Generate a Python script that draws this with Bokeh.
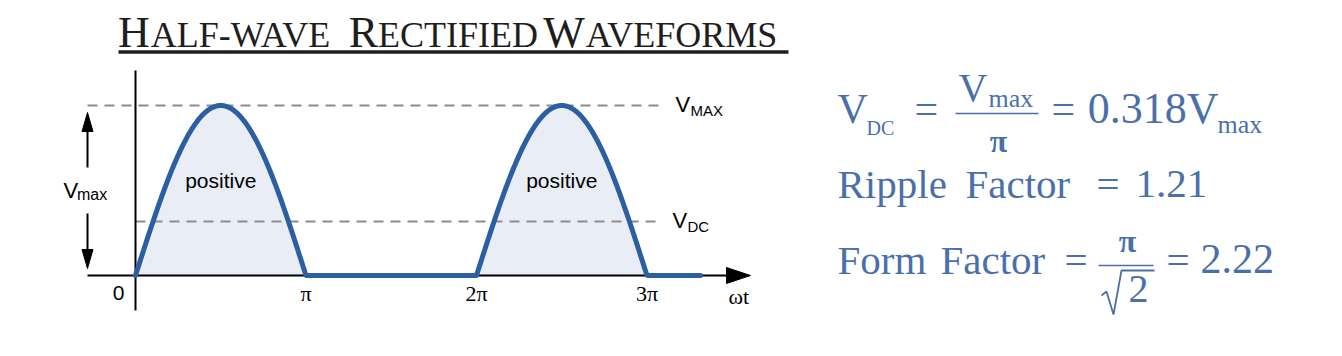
import numpy as np
from bokeh.plotting import figure
from bokeh.models import Range1d
from bokeh.core.properties import value
from bokeh.embed import file_html
from bokeh.resources import INLINE

# ---------------- data ----------------
tick_pos = [0.0, np.pi, 2 * np.pi, 3 * np.pi]
tick_labels = ["0", "π", "2π", "3π"]
V_MAX = 1.0
V_DC = 0.318
wave_end = 3.314 * np.pi          # where the drawn trace stops
positive_centres = [0.5 * np.pi, 2.5 * np.pi]
title_parts = ["H", "ALF-WAVE", "R", "ECTIFIED", "W", "AVEFORMS"]
vdc_value = "0.318"
ripple_value = "1.21"
form_value = "2.22"

# half-wave rectified sine
wx = np.linspace(0, wave_end, 800)
wy = np.clip(np.sin(wx), 0, None) * V_MAX

# ---------------- layout helpers (window pixels -> data) ----------------
W, H = 1326, 340
OFF = 0                         # canvas offset inside the window
X0PX, Y0PX = 135.0, 275.0      # window px of origin
SX = 170.5 / np.pi              # px per radian
SY = 170.0                      # px per volt unit


def X(px):
    return (px - X0PX) / SX


def Y(py):
    return (Y0PX - py) / SY


p = figure(width=W, height=H, output_backend="svg", toolbar_location=None,
           x_range=Range1d(X(OFF), X(OFF + W)), y_range=Range1d(Y(OFF + H), Y(OFF)),
           x_axis_type=None, y_axis_type=None, min_border=0)
p.grid.visible = False
p.outline_line_color = None
p.background_fill_color = "white"
p.border_fill_color = "white"

BLUE = "#2c5ea2"
FILL = "#e9eef6"
GREY = "#8c8c8c"
FORM = "#4a70aa"
SERIF = "Liberation Serif"
SANS = "Liberation Sans"
MID = {SERIF: 0.3375, SANS: 0.3465}   # baseline -> middle of em box


def txt(xs, base_px, texts, size, font, color="black", align="left", style="normal"):
    yy = Y(base_px - MID[font] * size)
    p.text(x=xs, y=[yy] * len(xs), text=texts, text_font=value(font),
           text_font_size=value(f"{size}px"), text_color=color,
           text_align=align, text_baseline="middle", text_font_style=style)


# fill under positive half-cycles
p.varea(x=wx, y1=np.zeros_like(wx), y2=wy, fill_color=FILL)

# dashed reference lines
p.line([X(87), X(662)], [V_MAX, V_MAX], line_color=GREY, line_width=2, line_dash="10 7")
p.line([0, X(662)], [V_DC, V_DC], line_color=GREY, line_width=2, line_dash="10 7")

# axes
p.line([X(87), X(735)], [0, 0], line_color="black", line_width=2)
p.line([0, 0], [Y(310), Y(70)], line_color="black", line_width=2)
p.patch([X(750), X(726), X(726)], [0, Y(267), Y(283)], color="black")

# Vmax arrows
p.line([X(87), X(87)], [Y(128), Y(167)], line_color="black", line_width=2)
p.patch([X(87), X(81.5), X(92.5)], [Y(112), Y(131), Y(131)], color="black")
p.line([X(87), X(87)], [Y(213), Y(252)], line_color="black", line_width=2)
p.patch([X(87), X(81.5), X(92.5)], [Y(268), Y(249), Y(249)], color="black")

# waveform
p.line(wx, wy, line_color=BLUE, line_width=5, line_cap="round", line_join="round")

# labels on the diagram
txt(positive_centres, 187, ["positive"] * 2, 21, SANS, align="center")
txt([X(675)], 112, ["V"], 22, SANS)
txt([X(690)], 115, ["MAX"], 15, SANS)
txt([X(672)], 228, ["V"], 22, SANS)
txt([X(687)], 231.5, ["DC"], 15, SANS)
txt([X(63)], 198, ["V"], 22, SANS)
txt([X(76.5)], 200, ["max"], 16, SANS)

# tick labels
txt([X(118)], 300, [tick_labels[0]], 21, SANS, align="center")
txt(tick_pos[1:], 300, tick_labels[1:], 22, SERIF, align="center")
txt([X(728)], 303, ["ωt"], 22, SERIF)

# title (small caps built from pieces)
txt([X(133.5), X(363), X(563.5)], 47,
    [title_parts[0], title_parts[2], title_parts[4]], 44, SERIF, color="#1e1e1e", align="center")
txt([X(240), X(457.5), X(681)], 47,
    [title_parts[1], title_parts[3], title_parts[5]], 36, SERIF, color="#1e1e1e", align="center")
p.line([X(118), X(788)], [Y(51.5)] * 2, line_color="#1e1e1e", line_width=3.5)

# ---------------- formulas ----------------
# line 1
txt([X(837)], 123, ["V"], 42, SERIF, FORM)
txt([X(866)], 134, ["DC"], 20, SERIF, FORM)
txt([X(914), X(1051)], 123, ["=", "="], 42, SERIF, FORM)
txt([X(958)], 100, ["V"], 40, SERIF, FORM)
txt([X(988)], 107, ["max"], 26, SERIF, FORM)
p.line([X(955), X(1038)], [Y(113)] * 2, line_color=FORM, line_width=1.5)
txt([X(998)], 151, ["π"], 32, SERIF, FORM, align="center", style="bold")
txt([X(1218)], 123, [vdc_value + "V"], 44, SERIF, FORM, align="right")
txt([X(1217)], 133, ["max"], 26, SERIF, FORM)

# line 2
txt([X(837), X(965), X(1096), X(1135)], 197,
    ["Ripple", "Factor", "=", ripple_value], 41, SERIF, FORM)

# line 3
txt([X(837), X(940), X(1064), X(1166)], 273,
    ["Form", "Factor", "=", "="], 41, SERIF, FORM)
txt([X(1200)], 273, [form_value], 42, SERIF, FORM)
txt([X(1127)], 251, ["π"], 32, SERIF, FORM, align="center", style="bold")
p.line([X(1098), X(1153)], [Y(265)] * 2, line_color=FORM, line_width=1.5)
p.line([X(1101), X(1106), X(1113), X(1121), X(1154)],
       [Y(295), Y(291), Y(314), Y(270), Y(270)], line_color=FORM, line_width=1.8)
txt([X(1138)], 302, ["2"], 40, SERIF, FORM, align="center")

open("out.html", "w").write(file_html(p, INLINE))
